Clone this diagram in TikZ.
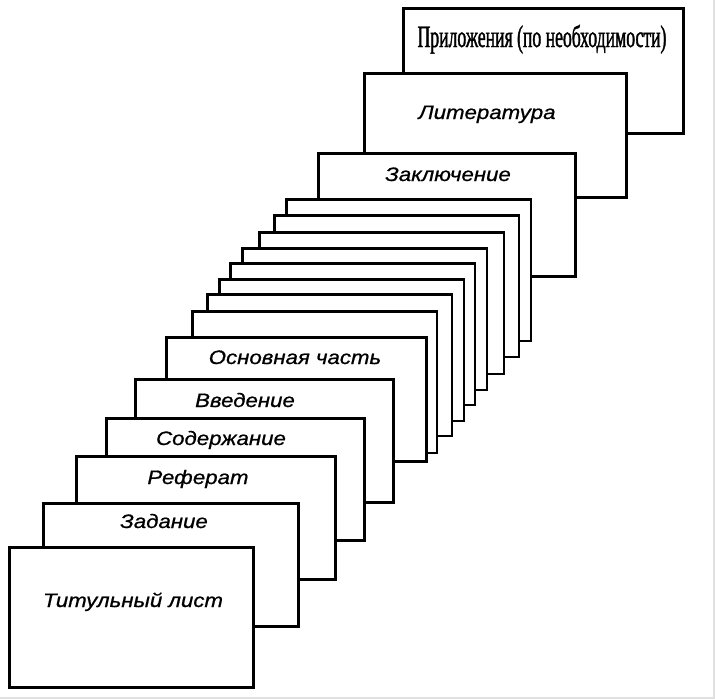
\documentclass[tikz,border=0pt]{standalone}
\usepackage{fontspec}
\usepackage{tikz}
\usetikzlibrary{positioning}
\newfontfamily\cardfont{Liberation Sans}[FakeStretch=1.14, FakeBold=0.8]
\newfontfamily\appfont{Liberation Serif}[FakeStretch=0.57, FakeBold=1.2]
\tikzset{
    card/.style={rectangle, draw, line width=2.6pt, fill=white, anchor=north west, inner sep=0pt},
    blankcard/.style={card, minimum width=244.5pt, minimum height=141.5pt},
    heading/.style={anchor=base, inner sep=0pt, font=\cardfont\itshape\fontsize{19.5}{22}\selectfont},
    appheading/.style={anchor=base, inner sep=0pt, font=\appfont\fontsize{31}{34}\selectfont}
}

\begin{document}
\begin{tikzpicture}[x=1pt, y=-1pt]
            \useasboundingbox (0,0) rectangle (715,699);
            \draw[black!12, line width=1.5pt] (714,0) -- (714,698) -- (0,698);
            % back cards
            \node[card, minimum width=280pt, minimum height=125pt] (pril) at (402,7) {};
            \node[appheading] at (542,47) {Приложения (по необходимости)};
            \node[card, minimum width=262pt, minimum height=124pt] (lit) at (363,72) {};
            \node[heading] at (487,119) {Литература};
            \node[card, line width=3.2pt, minimum width=257pt, minimum height=123pt] (zakl) at (317,152) {};
            \node[heading] at (448,181) {Заключение};
            % blank sheets of the main part
            \foreach \x/\y [count=\i] in {285/198, 273/214, 258/231, 241/247, 229/262, 218/278, 206/293, 191/310}
                \node[blankcard] (sheet\i) at (\x,\y) {};
            % front cards
            \node[card, minimum width=260pt, minimum height=124pt] (osnova) at (165,336) {};
            \node[heading] at (295,364) {Основная часть};
            \node[card, minimum width=258pt, minimum height=123pt] (vvedenie) at (134,378) {};
            \node[heading] at (245,407) {Введение};
            \node[card, minimum width=258pt, minimum height=122pt] (soderzh) at (105,417) {};
            \node[heading] at (221,445) {Содержание};
            \node[card, minimum width=259pt, minimum height=123pt] (referat) at (75,455) {};
            \node[heading] at (198,484) {Реферат};
            \node[card, minimum width=255pt, minimum height=123pt] (zadanie) at (42,502) {};
            \node[heading] at (164,528) {Задание};
            \node[card, minimum width=244pt, minimum height=140pt] (titul) at (8,546) {};
            \node[heading] at (133,607) {Титульный лист};
        \end{tikzpicture}
\end{document}
